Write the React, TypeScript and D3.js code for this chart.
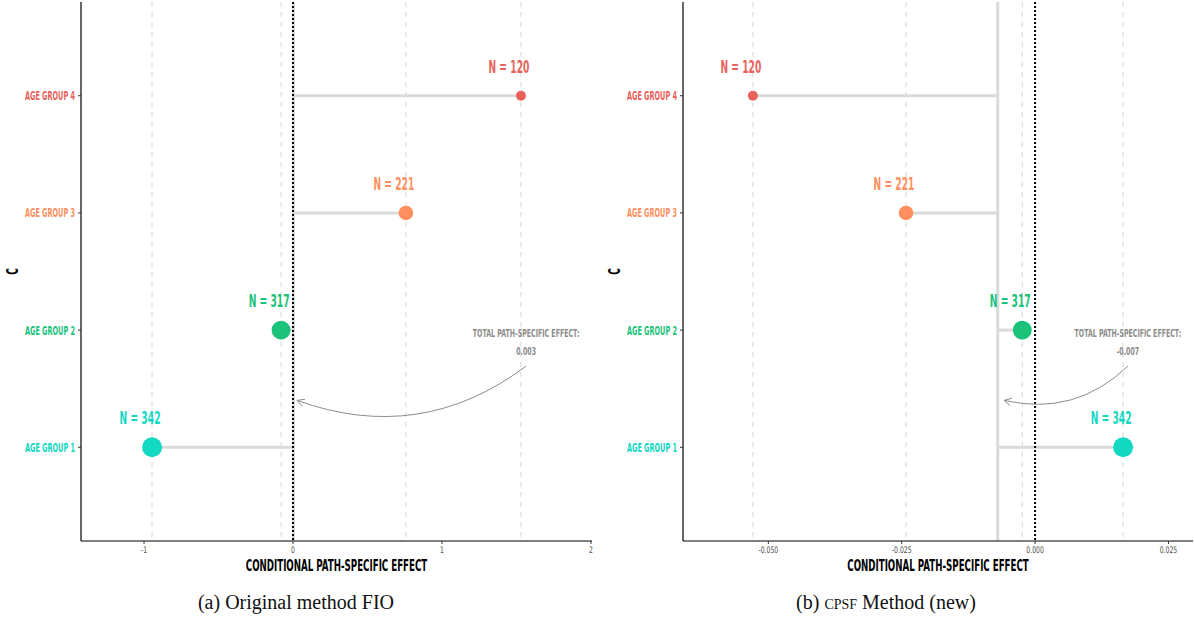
import React from "react";
import * as d3 from "d3";

// ---- data ----
const categories = ["AGE GROUP 1", "AGE GROUP 2", "AGE GROUP 3", "AGE GROUP 4"];
const groupN = [342, 317, 221, 120];
const groupColors = ["#13D8C2", "#1BC27A", "#FF8F5E", "#E8625B"];

const originalValues = [-0.946, -0.08, 0.758, 1.53];
const originalTotal = 0.003;
const originalTicks = [-1, 0, 1, 2];
const originalTickLabels = ["-1", "0", "1", "2"];
const originalTotalLabel = "0.003";

const cpsfValues = [0.0165, -0.0024, -0.0242, -0.0529];
const cpsfTotal = -0.007;
const cpsfTicks = [-0.05, -0.025, 0, 0.025];
const cpsfTickLabels = ["-0.050", "-0.025", "0.000", "0.025"];
const cpsfTotalLabel = "-0.007";

const captions = ["(a) Original method FIO", "(b)"];

const FONT = "'DejaVu Sans', sans-serif";

type CTextProps = {
  x: number;
  y: number;
  sx: number;
  anchor?: string;
  fill?: string;
  size: number;
  bold?: boolean;
  children: React.ReactNode;
};

function CText({ x, y, sx, anchor = "middle", fill = "#000", size, bold = true, children }: CTextProps) {
  return (
    <g transform={`translate(${x},${y}) scale(${sx},1)`}>
      <text
        x={0}
        y={0}
        textAnchor={anchor}
        fill={fill}
        fontFamily={FONT}
        fontWeight={bold ? "bold" : "normal"}
        fontSize={size}
      >
        {children}
      </text>
    </g>
  );
}

type PanelProps = {
  x0: number;
  x1: number;
  domain: [number, number];
  values: number[];
  total: number;
  ticks: number[];
  tickLabels: string[];
  totalLabel: string;
  annX: number;
  arrowEndX: number;
};

const TOP = 2;
const BOTTOM = 541;

function Panel(p: PanelProps) {
  const x = d3.scaleLinear().domain(p.domain).range([p.x0, p.x1]);
  const y = d3.scaleLinear().domain([0.2, 4.8]).range([BOTTOM, TOP]);
  const r = d3.scaleLinear().domain([120, 342]).range([5, 10]);
  const grey = "#8c8c8c";

  const ax = x(p.annX);
  const textY = y(2) + 7;
  const start: [number, number] = [ax, y(2) + 36];
  const end: [number, number] = [x(p.arrowEndX), y(1.4)];
  const mx = (start[0] + end[0]) / 2;
  const my = (start[1] + end[1]) / 2;
  const dx = end[0] - start[0];
  const dy = end[1] - start[1];
  const len = Math.hypot(dx, dy);
  const nx = -dy / len;
  const ny = dx / len;
  const curv = 0.27;
  const sgn = ny > 0 ? 1 : -1;
  const cx = mx + sgn * nx * curv * len;
  const cy = my + sgn * ny * curv * len;
  const path = `M${start[0]},${start[1]} Q${cx},${cy} ${end[0]},${end[1]}`;
  const tx = end[0] - cx;
  const ty = end[1] - cy;
  const tl = Math.hypot(tx, ty);
  const ux = tx / tl;
  const uy = ty / tl;
  const ah = 8;
  const ang = (28 * Math.PI) / 180;
  const rot = (vx: number, vy: number, a: number) => [
    vx * Math.cos(a) - vy * Math.sin(a),
    vx * Math.sin(a) + vy * Math.cos(a),
  ];
  const [h1x, h1y] = rot(-ux, -uy, ang);
  const [h2x, h2y] = rot(-ux, -uy, -ang);
  const head = `M${end[0] + h1x * ah},${end[1] + h1y * ah} L${end[0]},${end[1]} L${end[0] + h2x * ah},${end[1] + h2y * ah}`;

  return (
    <g>
      {p.values.map((v, i) => (
        <line
          key={"g" + i}
          x1={x(v)}
          x2={x(v)}
          y1={TOP}
          y2={BOTTOM}
          stroke="#d6d6d6"
          strokeWidth={1}
          strokeDasharray="5,5"
        />
      ))}
      <line x1={x(p.total)} x2={x(p.total)} y1={TOP} y2={BOTTOM} stroke="#dadada" strokeWidth={3} />
      {p.values.map((v, i) => (
        <line
          key={"s" + i}
          x1={x(p.total)}
          x2={x(v)}
          y1={y(i + 1)}
          y2={y(i + 1)}
          stroke="#dadada"
          strokeWidth={3}
        />
      ))}
      <line x1={x(0)} x2={x(0)} y1={TOP} y2={BOTTOM} stroke="#000" strokeWidth={2} strokeDasharray="2,2" />
      {p.values.map((v, i) => (
        <circle key={"c" + i} cx={x(v)} cy={y(i + 1)} r={r(groupN[i])} fill={groupColors[i]} />
      ))}
      {p.values.map((v, i) => (
        <CText key={"n" + i} x={x(v) - 12} y={y(i + 1) - 23} sx={0.54} fill={groupColors[i]} size={17}>
          {`N = ${groupN[i]}`}
        </CText>
      ))}
      <CText x={ax} y={textY} sx={0.57} fill={grey} size={11}>
        TOTAL PATH-SPECIFIC EFFECT:
      </CText>
      <CText x={ax} y={textY + 18} sx={0.57} fill={grey} size={11}>
        {p.totalLabel}
      </CText>
      <path d={path} fill="none" stroke={grey} strokeWidth={1} />
      <path d={head} fill="none" stroke={grey} strokeWidth={1} />
      <line x1={p.x0} x2={p.x0} y1={TOP} y2={BOTTOM} stroke="#000" strokeWidth={1.2} />
      <line x1={p.x0} x2={p.x1} y1={BOTTOM} y2={BOTTOM} stroke="#000" strokeWidth={1.2} />
      {p.ticks.map((t, i) => (
        <g key={"t" + i}>
          <line x1={x(t)} x2={x(t)} y1={BOTTOM} y2={BOTTOM + 3} stroke="#333" strokeWidth={1} />
          <CText x={x(t)} y={BOTTOM + 12} sx={0.68} fill="#4d4d4d" size={9} bold={false}>
            {p.tickLabels[i]}
          </CText>
        </g>
      ))}
      {categories.map((c, i) => (
        <g key={"y" + i}>
          <line x1={p.x0 - 3} x2={p.x0} y1={y(i + 1)} y2={y(i + 1)} stroke="#333" strokeWidth={1} />
          <CText x={p.x0 - 6} y={y(i + 1) + 4.5} sx={0.545} anchor="end" fill={groupColors[i]} size={12}>
            {c}
          </CText>
        </g>
      ))}
      <CText x={(p.x0 + p.x1) / 2} y={571} sx={0.56} size={15.5}>
        CONDITIONAL PATH-SPECIFIC EFFECT
      </CText>
      <g transform={`translate(${p.x0 - 63},${(TOP + BOTTOM) / 2}) rotate(-90)`}>
        <CText x={0} y={0} sx={0.6} size={15}>
          C
        </CText>
      </g>
    </g>
  );
}

export default function App() {
  return (
    <svg
      width={1194}
      height={621}
      style={{ position: "absolute", left: 0, top: 0, background: "#fff" }}
    >
      <rect width={1194} height={621} fill="#fff" />
      <Panel
        x0={81}
        x1={592}
        domain={[-1.423, 2.007]}
        values={originalValues}
        total={originalTotal}
        ticks={originalTicks}
        tickLabels={originalTickLabels}
        totalLabel={originalTotalLabel}
        annX={1.565}
        arrowEndX={0.027}
      />
      <Panel
        x0={683}
        x1={1193}
        domain={[-0.066, 0.0296]}
        values={cpsfValues}
        total={cpsfTotal}
        ticks={cpsfTicks}
        tickLabels={cpsfTickLabels}
        totalLabel={cpsfTotalLabel}
        annX={0.0174}
        arrowEndX={-0.0058}
      />
      <text x={296} y={609} textAnchor="middle" fontFamily="'Liberation Serif', serif" fontSize={20} fill="#111">
        {captions[0]}
      </text>
      <text x={886} y={609} textAnchor="middle" fontFamily="'Liberation Serif', serif" fontSize={20} fill="#111">
        {captions[1]}{" "}
        <tspan style={{ fontVariant: "small-caps" }}>cpsf</tspan> Method (new)
      </text>
    </svg>
  );
}
